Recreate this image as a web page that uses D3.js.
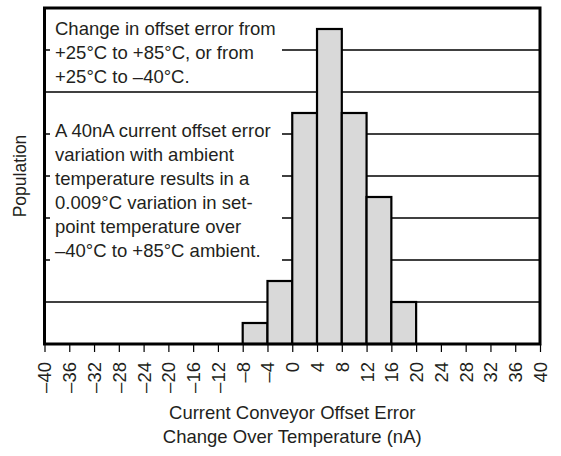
<!DOCTYPE html>
<html><head><meta charset="utf-8">
<script src="https://cdn.jsdelivr.net/npm/d3@7"></script>
<style>body{margin:0;background:#fff}svg{display:block}text{font-family:"Liberation Sans",Arial,sans-serif;fill:#231f20}</style>
</head><body><svg id="c" width="561" height="456"></svg>
<script>
const binStarts = [-8, -4, 0, 4, 8, 12, 16];
const binWidth = 4;
const populations = [0.5, 1.5, 5.5, 7.5, 5.5, 3.5, 1.0];
const xTicks = d3.range(-40, 41, 4);
const yGrid = [1, 2, 3, 4, 5, 6, 7];
const note1 = ["Change in offset error from", "+25°C to +85°C, or from", "+25°C to –40°C."];
const note2 = ["A 40nA current offset error", "variation with ambient", "temperature results in a", "0.009°C variation in set-", "point temperature over", "–40°C to +85°C ambient."];
const xTitle = ["Current Conveyor Offset Error", "Change Over Temperature (nA)"];
const yTitle = "Population";

const svg = d3.select("#c");
const L = 44.5, R = 540, T = 8, B = 344;
const x = d3.scaleLinear().domain([-40, 40]).range([L, R]);
const y = d3.scaleLinear().domain([0, 8]).range([B, T]);
const fs = 18.5;

// gridlines
svg.append("g").selectAll("line").data(yGrid).join("line")
  .attr("x1", L).attr("x2", R).attr("y1", d => y(d)).attr("y2", d => y(d))
  .attr("stroke", "#000").attr("stroke-width", 1.3);

// text boxes (mask gridlines)
function note(lines, y0, yTop, yBot) {
  svg.append("rect").attr("x", 50).attr("y", yTop).attr("width", 232).attr("height", yBot - yTop).attr("fill", "#fff");
  svg.append("g").selectAll("text").data(lines).join("text")
    .attr("x", 55).attr("y", (d, i) => y0 + i * 24).attr("font-size", fs).text(d => d);
}
note(note1, 35, T + 1, 88);
note(note2, 137, 100, 266);

// bars
svg.append("g").selectAll("rect").data(binStarts).join("rect")
  .attr("x", d => x(d)).attr("width", d => x(d + binWidth) - x(d))
  .attr("y", (d, i) => y(populations[i])).attr("height", (d, i) => B - y(populations[i]))
  .attr("fill", "#d9d9d9").attr("stroke", "#000").attr("stroke-width", 2.2);

// frame
svg.append("rect").attr("x", L).attr("y", T).attr("width", R - L).attr("height", B - T)
  .attr("fill", "none").attr("stroke", "#000").attr("stroke-width", 3);

// x axis
const xa = svg.append("g").attr("transform", `translate(0,${B})`)
  .call(d3.axisBottom(x).tickValues(xTicks).tickSize(8).tickSizeOuter(0).tickFormat(d => d < 0 ? "–" + Math.abs(d) : d));
xa.select(".domain").remove();
xa.selectAll(".tick line").attr("stroke", "#000").attr("stroke-width", 1.2);
xa.selectAll(".tick text").attr("font-size", fs).attr("font-family", "Liberation Sans, Arial, sans-serif")
  .attr("fill", "#231f20")
  .attr("transform", "rotate(-90)").attr("text-anchor", "end").attr("x", -18).attr("y", 0).attr("dy", "0.35em");

// x title
svg.append("g").selectAll("text").data(xTitle).join("text")
  .attr("x", (L + R) / 2).attr("y", (d, i) => 419 + i * 24).attr("text-anchor", "middle")
  .attr("font-size", fs).text(d => d);

// y title
svg.append("text").attr("transform", `translate(26,176) rotate(-90)`).attr("text-anchor", "middle")
  .attr("font-size", 17.5).text(yTitle);
</script></body></html>
